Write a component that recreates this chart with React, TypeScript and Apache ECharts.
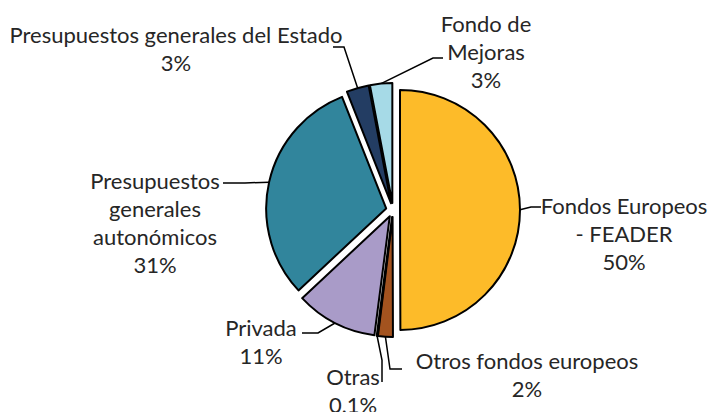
import React, { useEffect, useRef } from "react";
import * as echarts from "echarts";

const categories = [
  "Fondos Europeos - FEADER",
  "Otros fondos europeos",
  "Otras",
  "Privada",
  "Presupuestos generales autonómicos",
  "Presupuestos generales del Estado",
  "Fondo de Mejoras",
];
const labelTexts = [
  "Fondos Europeos\n- FEADER",
  "Otros fondos europeos",
  "Otras",
  "Privada",
  "Presupuestos\ngenerales\nautonómicos",
  "Presupuestos generales del Estado",
  "Fondo de\nMejoras",
];
const values = [50, 2, 0.1, 11, 31, 3, 3];
const colors = ["#FDBB29", "#A3531F", "#8C8C8C", "#A99BC8", "#31859C", "#233D63", "#A6DAE7"];

// pie geometry and label placement (annotation layout)
const CX = 393;
const CY = 210;
const R = 120;
const EXPLODE = 7;
const labelPlacement = [
  { x: 624, y: 233, elbow: [531, 207], end: [541, 207] },
  { x: 527, y: 374, elbow: [390, 369], end: [402, 369] },
  { x: 353, y: 390, elbow: [382, 360], end: [382, 382] },
  { x: 261, y: 341, elbow: [318, 333], end: [302, 333] },
  { x: 155, y: 222, elbow: [245, 183], end: [223, 183] },
  { x: 176, y: 48, elbow: [344, 47], end: [333, 47] },
  { x: 486, y: 51, elbow: [433, 58], end: [443, 58] },
];

const fmtPct = (v: number) => String(v).replace(".", ",") + "%";

export default function App() {
  const ref = useRef<HTMLDivElement>(null);
  useEffect(() => {
    if (!ref.current) return;
    const chart = echarts.init(ref.current, undefined, { renderer: "svg" });
    const total = values.reduce((a, b) => a + b, 0);
    let cum = 0;
    const series = values.map((v, i) => {
      const mid = ((cum + v / 2) / total) * Math.PI * 2;
      cum += v;
      const center = [CX + EXPLODE * Math.sin(mid), CY - EXPLODE * Math.cos(mid)];
      const pl = labelPlacement[i];
      return {
        type: "pie",
        center,
        radius: R,
        startAngle: 90,
        clockwise: true,
        silent: true,
        avoidLabelOverlap: false,
        emphasis: { disabled: true },
        z: 2,
        label: {
          show: true,
          position: "outside",
          color: "#262626",
          fontFamily: "Lato",
          fontSize: 22,
          lineHeight: 28,
          align: "center",
          formatter: (p: any) => labelTexts[p.dataIndex] + "\n" + fmtPct(values[p.dataIndex]),
        },
        labelLine: { show: true, lineStyle: { color: "#000", width: 1.5 } },
        labelLayout: (p: any) => {
          if (p.dataIndex !== i) return {};
          const a = p.labelLinePoints ? p.labelLinePoints[0] : pl.elbow;
          return {
            x: pl.x,
            y: pl.y,
            align: "center",
            verticalAlign: "middle",
            labelLinePoints: [a, pl.elbow, pl.end],
          };
        },
        data: categories.map((name, j) =>
          j === i
            ? { name, value: values[j], itemStyle: { color: colors[j], borderColor: "#000", borderWidth: 2 } }
            : {
                name,
                value: values[j],
                itemStyle: { color: "rgba(0,0,0,0)", borderWidth: 0 },
                label: { show: false },
                labelLine: { show: false },
              }
        ),
      };
    });
    chart.setOption({
      animation: false,
      backgroundColor: "#ffffff",
      series,
    });
    return () => chart.dispose();
  }, []);
  return (
    <div
      ref={ref}
      style={{ position: "absolute", left: 0, top: 0, width: 711, height: 412 }}
    />
  );
}
